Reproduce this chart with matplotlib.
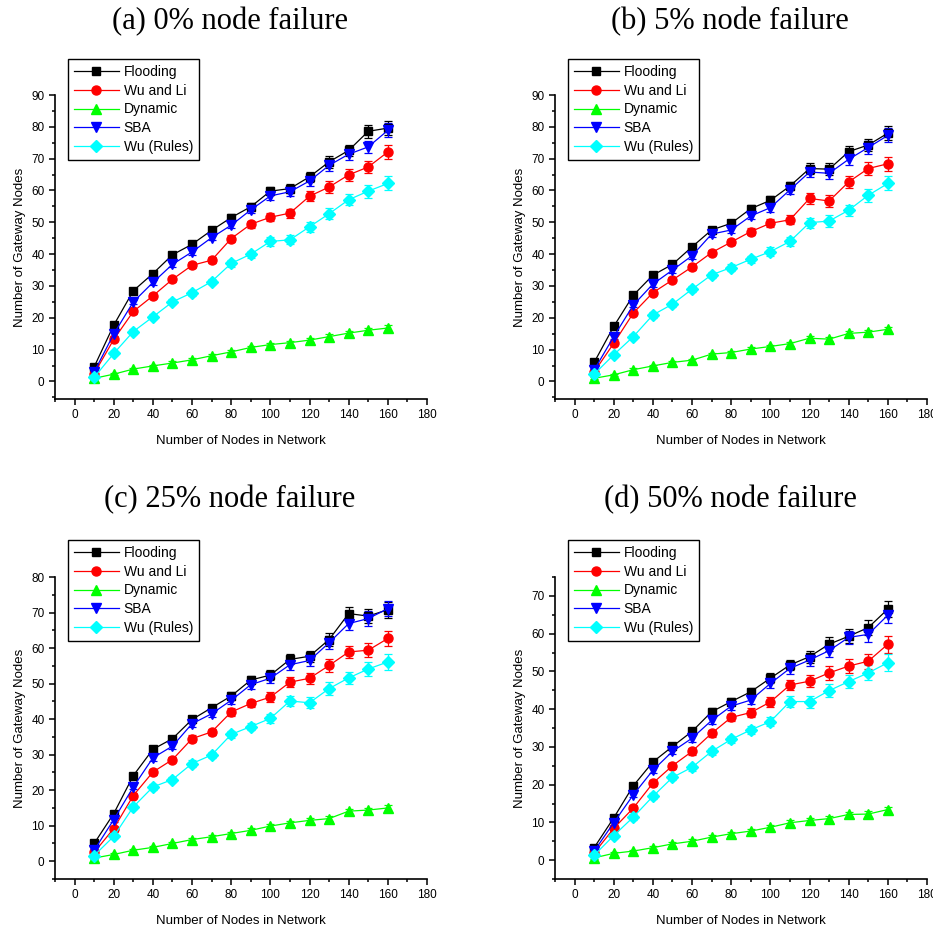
# Gateway node counts under different node-failure rates (4 panels).
import numpy as np
import matplotlib
matplotlib.use('Agg')
import matplotlib.pyplot as plt
from matplotlib.ticker import MultipleLocator
from matplotlib.lines import Line2D

plt.rcParams['font.family'] = ['Liberation Sans', 'DejaVu Sans']

nodes = [10, 20, 30, 40, 50, 60, 70, 80, 90, 100, 110, 120, 130, 140, 150, 160]
labels = ['Flooding', 'Wu and Li', 'Dynamic', 'SBA', 'Wu (Rules)']
titles = ['(a) 0% node failure', '(b) 5% node failure',
          '(c) 25% node failure', '(d) 50% node failure']

# (a) 0% node failure
flood_a = [4.6, 17.7, 28.5, 33.9, 39.8, 43.1, 47.5, 51.5, 54.9, 59.8, 60.6, 64.3, 69.0, 72.6, 78.6, 79.6]
wuli_a = [2.5, 13.2, 22.0, 26.9, 32.1, 36.5, 38.1, 44.9, 49.4, 51.6, 52.9, 58.2, 61.1, 64.9, 67.4, 72.1]
dyn_a = [1.0, 2.3, 3.9, 4.9, 5.8, 6.8, 8.1, 9.3, 10.7, 11.6, 12.2, 13.0, 14.1, 15.2, 16.1, 16.8]
sba_a = [3.0, 14.9, 25.0, 31.1, 36.8, 40.7, 45.2, 49.1, 53.9, 58.3, 59.6, 63.0, 67.9, 71.4, 73.7, 78.9]
rules_a = [1.3, 8.8, 15.7, 20.3, 25.0, 27.9, 31.4, 37.1, 40.0, 44.0, 44.5, 48.6, 52.7, 57.1, 59.8, 62.2]

# (b) 5% node failure
flood_b = [6.0, 17.3, 27.1, 33.4, 36.8, 42.3, 47.6, 49.7, 54.3, 56.9, 61.4, 66.9, 66.7, 72.2, 74.3, 78.0]
wuli_b = [3.0, 12.0, 21.5, 27.9, 31.9, 36.0, 40.5, 43.8, 47.1, 49.7, 50.8, 57.5, 56.7, 62.7, 66.9, 68.4]
dyn_b = [1.0, 2.1, 3.7, 4.9, 6.0, 6.7, 8.6, 9.1, 10.2, 11.0, 11.9, 13.6, 13.3, 15.1, 15.5, 16.4]
sba_b = [3.6, 14.1, 24.0, 30.6, 35.0, 39.5, 46.3, 47.6, 52.0, 54.6, 60.2, 65.8, 65.4, 69.8, 73.5, 77.3]
rules_b = [2.3, 8.4, 14.1, 20.9, 24.3, 29.0, 33.5, 35.8, 38.4, 40.8, 44.0, 49.9, 50.4, 53.8, 58.5, 62.2]

# (c) 25% node failure
flood_c = [5.0, 13.4, 24.1, 31.5, 34.5, 39.9, 43.2, 46.5, 51.0, 52.4, 56.8, 57.7, 62.4, 69.7, 69.0, 70.8]
wuli_c = [2.5, 9.2, 18.5, 25.1, 28.6, 34.5, 36.4, 42.0, 44.4, 46.2, 50.4, 51.5, 55.1, 58.9, 59.4, 62.7]
dyn_c = [0.9, 1.9, 3.1, 3.9, 5.0, 6.1, 6.9, 7.8, 8.7, 9.9, 10.8, 11.5, 12.0, 14.1, 14.4, 15.0]
sba_c = [3.1, 11.7, 20.9, 29.1, 32.4, 38.7, 41.5, 45.3, 49.7, 51.5, 55.3, 56.5, 61.5, 66.9, 68.3, 71.1]
rules_c = [1.6, 7.0, 15.3, 20.9, 23.0, 27.5, 29.9, 35.7, 37.9, 40.2, 45.1, 44.6, 48.6, 51.6, 54.1, 56.1]

# (d) 50% node failure
flood_d = [3.3, 11.2, 19.7, 26.0, 30.1, 34.1, 39.3, 42.0, 44.6, 48.2, 51.7, 53.9, 57.2, 59.3, 61.6, 66.5]
wuli_d = [1.9, 8.4, 13.8, 20.4, 25.0, 28.8, 33.6, 37.8, 39.1, 41.9, 46.4, 47.4, 49.6, 51.4, 52.7, 57.2]
dyn_d = [0.6, 1.8, 2.4, 3.3, 4.3, 5.0, 6.1, 7.0, 7.7, 8.7, 9.9, 10.5, 11.0, 12.1, 12.2, 13.4]
sba_d = [2.4, 9.9, 17.3, 23.8, 28.8, 32.3, 37.0, 40.8, 42.4, 46.8, 50.8, 53.0, 55.5, 59.0, 59.8, 64.9]
rules_d = [1.3, 6.5, 11.4, 16.9, 21.9, 24.6, 28.8, 32.0, 34.5, 36.7, 42.0, 42.0, 44.9, 47.3, 49.6, 52.3]

# approximate error bar half-widths
err_main = [0.4, 0.6, 0.7, 0.8, 0.8, 0.9, 0.9, 1.0, 1.1, 1.3, 1.4, 1.6, 1.8, 1.8, 2.0, 2.2]
err_dyn = [0.3, 0.4, 0.4, 0.4, 0.5, 0.5, 0.5, 0.5, 0.6, 0.6, 0.6, 0.6, 0.7, 0.7, 0.7, 0.8]

panels = [
    [flood_a, wuli_a, dyn_a, sba_a, rules_a],
    [flood_b, wuli_b, dyn_b, sba_b, rules_b],
    [flood_c, wuli_c, dyn_c, sba_c, rules_c],
    [flood_d, wuli_d, dyn_d, sba_d, rules_d],
]
ytops = [90, 90, 80, 75]
ybots = [-5.5, -5.5, -5, -5]

colors = ['#000000', '#ff0000', '#00ff00', '#0000ff', '#00ffff']
markers = ['s', 'o', '^', 'v', 'D']
msizes = [6, 6.5, 6.5, 6.5, 6]

W, H = 933, 926
fig = plt.figure(figsize=(W / 100, H / 100), dpi=100)

# axes boxes in pixels: left, right, top, bottom
boxes = [(55, 427, 95, 399), (555, 927, 95, 399),
         (55, 427, 577, 879), (555, 927, 577, 879)]
legend_top = [59, 59, 540, 540]
title_pos = [(230, 22), (730, 22), (230, 500), (730, 500)]

# legend entries: line + marker, no error bar
handles = [Line2D([], [], color=colors[j], marker=markers[j], markersize=msizes[j],
                  linewidth=0.9) for j in range(5)]

for i, (l, r, t, b) in enumerate(boxes):
    ax = fig.add_axes([l / W, 1 - b / H, (r - l) / W, (b - t) / H])
    for j, series in enumerate(panels[i]):
        err = err_dyn if j == 2 else err_main
        ax.errorbar(nodes, series, yerr=err, color=colors[j], marker=markers[j],
                    markersize=msizes[j], linewidth=0.9, elinewidth=0.9,
                    capsize=3, capthick=0.9)

    ax.set_xlim(-10, 180)
    ax.set_ylim(ybots[i], ytops[i])
    ax.xaxis.set_major_locator(MultipleLocator(20))
    ax.xaxis.set_minor_locator(MultipleLocator(10))
    ax.yaxis.set_major_locator(MultipleLocator(10))
    ax.yaxis.set_minor_locator(MultipleLocator(5))
    ax.spines['top'].set_visible(False)
    ax.spines['right'].set_visible(False)
    ax.spines['left'].set_linewidth(1.2)
    ax.spines['bottom'].set_linewidth(1.2)
    ax.tick_params(which='major', direction='out', length=4, width=1.1, labelsize=8.5)
    ax.tick_params(which='minor', direction='out', length=2.5, width=1.1)
    ax.set_xlabel('Number of Nodes in Network', fontsize=9.5, labelpad=10)
    ax.set_ylabel('Number of Gateway Nodes', fontsize=9.5, labelpad=4)

    ax.legend(handles, labels, loc='upper left',
              bbox_to_anchor=((l + 13) / W, 1 - legend_top[i] / H),
              bbox_transform=fig.transFigure, borderaxespad=0, fancybox=False,
              edgecolor='black', framealpha=1, fontsize=10, handlelength=3.2,
              labelspacing=0.33, borderpad=0.45, handletextpad=0.35)

    fig.text(title_pos[i][0] / W, 1 - title_pos[i][1] / H, titles[i],
             ha='center', va='center', fontsize=22, family='Liberation Serif')

fig.savefig('out.png', dpi=100)
